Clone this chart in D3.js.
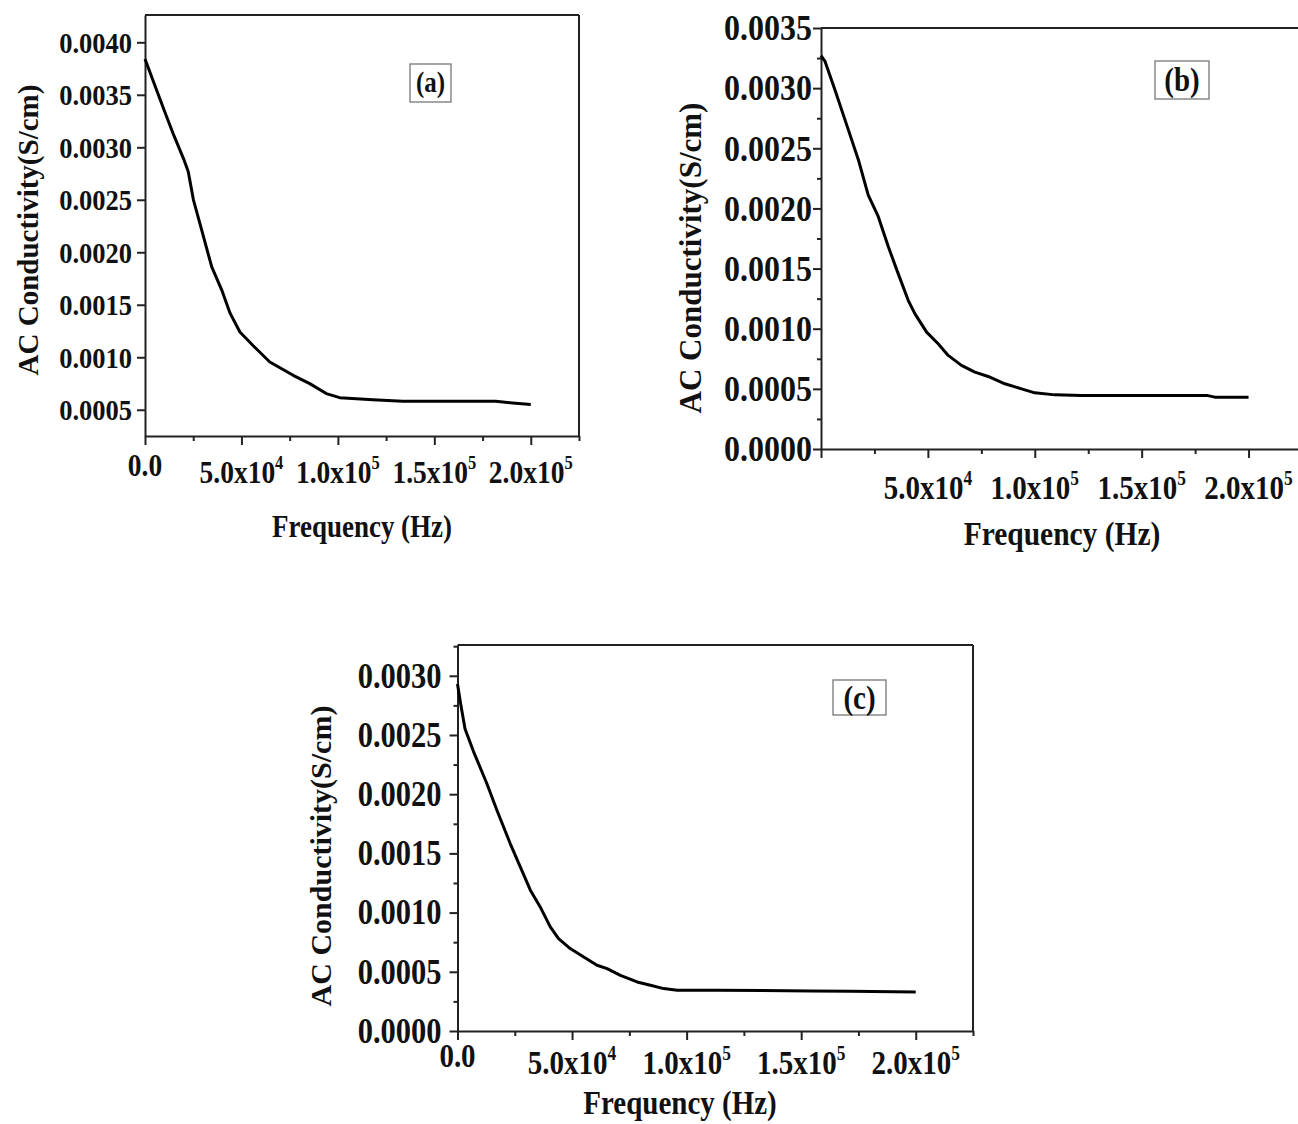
<!DOCTYPE html>
<html>
<head>
<meta charset="utf-8">
<script src="https://cdn.jsdelivr.net/npm/d3@7"></script>
<style>
  body { margin: 0; background: #fff; }
  svg text { font-family: "Liberation Serif", "Times New Roman", serif; font-weight: bold; fill: #111; }
</style>
</head>
<body>
<div id="chart"></div>
<script>
// AC conductivity vs frequency, three samples (a), (b), (c)
var freqA = [0, 4500, 9600, 14800, 20000, 22400, 25100, 29400, 34600, 39800, 44100, 49200, 56100, 64700, 76800, 85400, 94000, 100900, 118100, 133600, 152600, 181800, 190500, 200000];
var condA = [0.00384, 0.00362, 0.00337, 0.00312, 0.00289, 0.00277, 0.0025, 0.00221, 0.00186, 0.00164, 0.00142, 0.00124, 0.00111, 0.000955, 0.000828, 0.000749, 0.000654, 0.000615, 0.000596, 0.00058, 0.00058, 0.00058, 0.000565, 0.00055];

var freqB = [0, 1900, 6500, 12800, 17500, 22100, 26800, 31500, 36100, 40800, 43900, 49400, 54800, 59500, 65700, 72000, 78200, 86000, 93800, 100000, 109400, 121800, 153000, 181000, 184200, 200000];
var condB = [0.00327, 0.003222, 0.002986, 0.002653, 0.002403, 0.002111, 0.001931, 0.001681, 0.001458, 0.001236, 0.001125, 0.000972, 0.000875, 0.000778, 0.000695, 0.000639, 0.000603, 0.000542, 0.0005, 0.000467, 0.00045, 0.000444, 0.000444, 0.000444, 0.000431, 0.000431];

var freqC = [0, 1500, 3300, 7000, 12800, 17200, 23000, 27400, 31800, 36100, 40500, 44100, 49200, 55100, 60900, 65300, 71100, 78400, 84200, 90000, 95900, 113400, 154200, 171600, 200000];
var condC = [0.00293, 0.00275, 0.00255, 0.00236, 0.00209, 0.001865, 0.001583, 0.001386, 0.001189, 0.001048, 0.000879, 0.00078, 0.000696, 0.000625, 0.000555, 0.000527, 0.00047, 0.000414, 0.000386, 0.000358, 0.000344, 0.000344, 0.000338, 0.000335, 0.00033];

var xTicks = [0, 50000, 100000, 150000, 200000];
var xTickMant = ["0.0", "5.0x10", "1.0x10", "1.5x10", "2.0x10"];
var xTickExp = ["", "4", "5", "5", "5"];
var xMinor = [25000, 75000, 125000, 175000, 225000];

var yTicksA = [0.0005, 0.0010, 0.0015, 0.0020, 0.0025, 0.0030, 0.0035, 0.0040];
var yTicksB = [0.0000, 0.0005, 0.0010, 0.0015, 0.0020, 0.0025, 0.0030, 0.0035];
var yTicksC = [0.0000, 0.0005, 0.0010, 0.0015, 0.0020, 0.0025, 0.0030];

var yTitle = "AC Conductivity(S/cm)";
var xTitle = "Frequency (Hz)";

// the figure's lettering is taller than plain Times, stretch it a bit
var sy = 1.15;

var panels = [
  {tag: "(a)", freq: freqA, cond: condA, yTicks: yTicksA, yMin: 0.00025, yMax: 0.00426,
   left: 145, right: 579, top: 15, bottom: 436, showZero: true,
   yFont: 26.5, xFont: 27.5, yPad: 5, xLabDy: 47,
   titleFont: 27, titleX: 362, titleY: 537,
   yTitleFont: 29, yTitleX: 28, yTitleY: 230,
   box: {x: 410, y: 64, w: 41, h: 38, font: 25}},
  {tag: "(b)", freq: freqB, cond: condB, yTicks: yTicksB, yMin: 0, yMax: 0.0035,
   left: 821, right: 1302, top: 28, bottom: 449, showZero: false,
   yFont: 32, xFont: 29, yPad: 1, xLabDy: 50,
   titleFont: 29.5, titleX: 1062, titleY: 545,
   yTitleFont: 31, yTitleX: 690, yTitleY: 258,
   box: {x: 1155, y: 61, w: 54, h: 38, font: 29}},
  {tag: "(c)", freq: freqC, cond: condC, yTicks: yTicksC, yMin: 0, yMax: 0.00326,
   left: 457.5, right: 973, top: 645, bottom: 1031, showZero: true,
   yFont: 30.5, xFont: 29, yPad: 8, xLabDy: 43,
   titleFont: 29, titleX: 680, titleY: 1114,
   yTitleFont: 30, yTitleX: 320, yTitleY: 856,
   box: {x: 833, y: 680, w: 53, h: 35, font: 29}}
];

var svg = d3.select("#chart").append("svg")
    .attr("width", 1298)
    .attr("height", 1124);

panels.forEach(function(p) {
  var x = d3.scaleLinear().domain([0, 225000]).range([p.left, p.right]);
  var y = d3.scaleLinear().domain([p.yMin, p.yMax]).range([p.bottom, p.top]);
  var g = svg.append("g");

  // frame: top and right lines
  g.append("line").attr("x1", p.left).attr("x2", p.right).attr("y1", p.top).attr("y2", p.top)
    .attr("stroke", "#222").attr("stroke-width", 2);
  g.append("line").attr("x1", p.right).attr("x2", p.right).attr("y1", p.top).attr("y2", p.bottom)
    .attr("stroke", "#222").attr("stroke-width", 2);

  // y axis
  var yMinor = d3.range(p.yMin + 0.00025, p.yMax, 0.0005).filter(function(v) {
    return Math.abs(Math.round(v / 0.0005) * 0.0005 - v) > 1e-7;
  });
  g.append("g")
      .attr("transform", "translate(" + p.left + ",0)")
      .call(d3.axisLeft(y).tickValues(yMinor).tickSize(4).tickFormat(""))
      .call(function(s) { s.select(".domain").remove(); });
  var gy = g.append("g")
      .attr("transform", "translate(" + p.left + ",0)")
      .call(d3.axisLeft(y).tickValues(p.yTicks).tickSize(8).tickSizeOuter(0)
        .tickPadding(p.yPad).tickFormat(d3.format(".4f")));
  gy.selectAll("text")
      .style("font-size", p.yFont + "px")
      .attr("transform", "scale(1," + sy + ")");

  // x axis
  g.append("g")
      .attr("transform", "translate(0," + p.bottom + ")")
      .call(d3.axisBottom(x).tickValues(xMinor).tickSize(5).tickFormat(""))
      .call(function(s) { s.select(".domain").remove(); });
  g.append("g")
      .attr("transform", "translate(0," + p.bottom + ")")
      .call(d3.axisBottom(x).tickValues(xTicks).tickSize(9).tickSizeOuter(0).tickFormat(""));

  g.selectAll(".domain, .tick line").attr("stroke", "#222").attr("stroke-width", 2);

  var labs = g.append("g").selectAll("text")
    .data(xTicks.map(function(d, i) { return {v: d, m: xTickMant[i], e: xTickExp[i]}; })
      .filter(function(d) { return p.showZero || d.v != 0; }))
    .enter().append("text")
      .attr("transform", function(d) {
        var yy = p.bottom + (d.e ? p.xLabDy : p.xLabDy - 7);
        return "translate(" + x(d.v) + "," + yy + ") scale(1," + sy + ")";
      })
      .attr("text-anchor", "middle")
      .style("font-size", p.xFont + "px");
  labs.append("tspan").text(function(d) { return d.m; });
  labs.append("tspan")
      .attr("dy", "-0.72em")
      .style("font-size", "0.6em")
      .text(function(d) { return d.e; });

  // curve
  var line = d3.line()
      .x(function(d, i) { return x(p.freq[i]); })
      .y(function(d) { return y(d); });
  g.append("path")
      .datum(p.cond)
      .attr("fill", "none")
      .attr("stroke", "#000")
      .attr("stroke-width", 3)
      .attr("stroke-linejoin", "round")
      .attr("d", line);

  // titles
  g.append("text")
      .attr("transform", "translate(" + p.titleX + "," + p.titleY + ") scale(1," + sy + ")")
      .attr("text-anchor", "middle")
      .style("font-size", p.titleFont + "px")
      .text(xTitle);
  g.append("text")
      .attr("transform", "translate(" + p.yTitleX + "," + p.yTitleY + ") rotate(-90)")
      .attr("text-anchor", "middle")
      .attr("dy", "0.35em")
      .style("font-size", p.yTitleFont + "px")
      .text(yTitle);

  // panel tag box
  g.append("rect")
      .attr("x", p.box.x).attr("y", p.box.y)
      .attr("width", p.box.w).attr("height", p.box.h)
      .attr("fill", "none").attr("stroke", "#777").attr("stroke-width", 1.3);
  g.append("text")
      .attr("transform", "translate(" + (p.box.x + p.box.w / 2) + "," +
        (p.box.y + p.box.h / 2 + 0.33 * p.box.font * sy) + ") scale(1," + sy + ")")
      .attr("text-anchor", "middle")
      .style("font-size", p.box.font + "px")
      .text(p.tag);
});
</script>
</body>
</html>
